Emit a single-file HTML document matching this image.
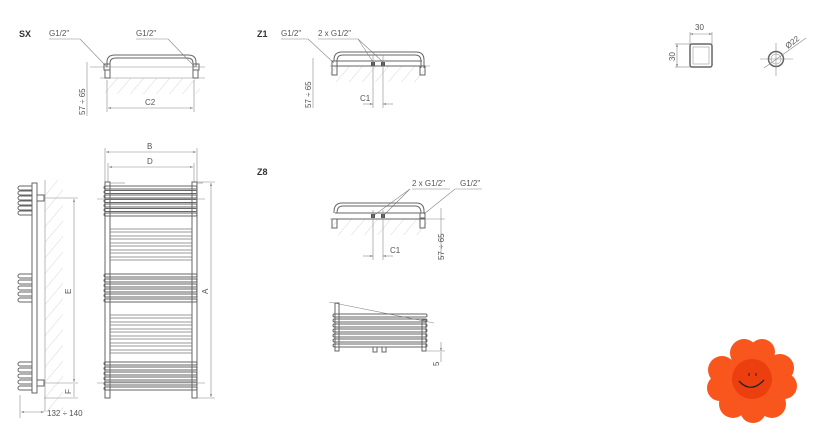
<!DOCTYPE html>
<html><head><meta charset="utf-8"><style>
html,body{margin:0;padding:0;background:#fff;}
svg{display:block;font-family:"Liberation Sans",sans-serif;}
.t{font-size:8px;fill:#555;}
.b{font-size:9px;font-weight:bold;fill:#333;}
.o{fill:none;stroke:#666;stroke-width:1;}
.d{fill:none;stroke:#888;stroke-width:0.6;}
.h{stroke:#bbb;stroke-width:0.6;}
</style></head><body>
<svg width="820" height="448" viewBox="0 0 820 448" xmlns="http://www.w3.org/2000/svg">
<defs>
<pattern id="hat" width="10" height="10" patternUnits="userSpaceOnUse" patternTransform="rotate(40)">
<line x1="0" y1="0" x2="0" y2="10" class="h"/></pattern>
<marker id="ar" markerWidth="6" markerHeight="6" refX="5" refY="3" orient="auto-start-reverse"><path d="M0,1.5 L5,3 L0,4.5z" fill="#777"/></marker>
</defs>

<!-- SX -->
<text x="19" y="37" class="b">SX</text>
<text x="49" y="36" class="t">G1/2"</text>
<text x="136" y="36" class="t">G1/2"</text>
<line x1="49" y1="39" x2="80" y2="39" class="d"/><line x1="80" y1="39" x2="107" y2="67" class="d"/>
<line x1="136" y1="39" x2="168" y2="39" class="d"/><line x1="168" y1="39" x2="195" y2="67" class="d"/>
<rect x="105" y="78" width="95" height="16" fill="url(#hat)"/>
<line x1="100" y1="78" x2="205" y2="78" class="d"/>
<path d="M107,67 V62 Q107,55 115,55 H188 Q196,55 196,62 V67" class="o"/>
<path d="M110,67 V63 Q110,58 116,58 H187 Q193,58 193,63 V67" class="o"/>
<line x1="90" y1="67" x2="205" y2="67" class="d"/>
<rect x="104" y="64" width="6" height="6" class="o"/><rect x="193" y="64" width="6" height="6" class="o"/>
<rect x="105" y="70" width="5" height="8" class="o"/><rect x="193" y="70" width="5" height="8" class="o"/>
<line x1="87" y1="62" x2="87" y2="116" class="d"/>
<text transform="translate(85,115) rotate(-90)" class="t">57 ÷ 65</text>
<line x1="107" y1="80" x2="107" y2="112" class="d"/><line x1="194" y1="80" x2="194" y2="112" class="d"/>
<line x1="108" y1="108" x2="193" y2="108" class="d" marker-start="url(#ar)" marker-end="url(#ar)"/>
<text x="145" y="105" class="t">C2</text>

<!-- Z1 -->
<text x="257" y="37" class="b">Z1</text>
<text x="281" y="36" class="t">G1/2"</text>
<text x="318" y="36" class="t">2 x G1/2"</text>
<line x1="281" y1="39" x2="308" y2="39" class="d"/><line x1="308" y1="39" x2="334" y2="63" class="d"/>
<line x1="318" y1="39" x2="358" y2="39" class="d"/><line x1="358" y1="39" x2="373" y2="62" class="d"/><line x1="358" y1="39" x2="383" y2="62" class="d"/>
<rect x="330" y="66" width="95" height="16" fill="url(#hat)"/>
<line x1="330" y1="66" x2="430" y2="66" class="d"/>
<path d="M334,61 V60 Q334,52 342,52 H416 Q424,52 424,60 V68" class="o"/>
<path d="M337,61 V61 Q337,55 343,55 H415 Q421,55 421,61 V68" class="o"/>
<line x1="335" y1="61" x2="422" y2="61" class="o"/><line x1="335" y1="66" x2="422" y2="66" class="o"/>
<rect x="332" y="61" width="5" height="5" class="o"/>
<rect x="371" y="62" width="4" height="4" fill="#555"/><rect x="381" y="62" width="4" height="4" fill="#555"/>
<rect x="332" y="66" width="5" height="9" class="o"/><rect x="420" y="66" width="5" height="9" class="o"/>
<line x1="313" y1="58" x2="313" y2="108" class="d"/>
<text transform="translate(311,108) rotate(-90)" class="t">57 ÷ 65</text>
<line x1="373" y1="55" x2="373" y2="108" class="d"/><line x1="383" y1="55" x2="383" y2="108" class="d"/>
<line x1="363" y1="104" x2="373" y2="104" class="d" marker-end="url(#ar)"/><line x1="393" y1="104" x2="383" y2="104" class="d" marker-end="url(#ar)"/>
<text x="360" y="101" class="t">C1</text>

<!-- profiles -->
<text x="695" y="30" class="t">30</text>
<line x1="690" y1="34" x2="712" y2="34" class="d" marker-start="url(#ar)" marker-end="url(#ar)"/>
<line x1="690" y1="32" x2="690" y2="44" class="d"/><line x1="712" y1="32" x2="712" y2="44" class="d"/>
<rect x="690" y="44" width="22" height="23" rx="2" fill="none" stroke="#666" stroke-width="1.5"/>
<rect x="693" y="47" width="16" height="17" fill="none" stroke="#999" stroke-width="0.6"/>
<line x1="677" y1="44" x2="677" y2="67" class="d" marker-start="url(#ar)" marker-end="url(#ar)"/>
<line x1="675" y1="44" x2="690" y2="44" class="d"/><line x1="675" y1="67" x2="690" y2="67" class="d"/>
<text transform="translate(675,61) rotate(-90)" class="t">30</text>
<line x1="776" y1="43" x2="776" y2="76" class="d"/><line x1="760" y1="59" x2="793" y2="59" class="d"/>
<circle cx="776" cy="59" r="7.5" fill="none" stroke="#666" stroke-width="1.5"/>
<circle cx="776" cy="59" r="5" fill="none" stroke="#999" stroke-width="0.6"/>
<line x1="764" y1="68" x2="806" y2="38" class="d"/>
<text transform="translate(788,49) rotate(-38)" class="t">Ø22</text>

<!-- side view -->
<rect x="45" y="180" width="18" height="232" fill="url(#hat)"/>
<line x1="45" y1="180" x2="45" y2="412" class="d"/>
<rect x="32" y="183" width="5" height="210" class="o"/>
<g class="o">
<path d="M32,186 H20 a2,2 0 0 0 0,4 H32 M32,191 H20 a2,2 0 0 0 0,4 H32 M32,196 H20 a2,2 0 0 0 0,4 H32 M32,201 H20 a2,2 0 0 0 0,4 H32 M32,206 H20 a2,2 0 0 0 0,4 H32 M32,211 H20 a2,2 0 0 0 0,4 H32"/>
<path d="M32,274 H20 a2,2 0 0 0 0,4 H32 M32,280 H20 a2,2 0 0 0 0,4 H32 M32,286 H20 a2,2 0 0 0 0,4 H32 M32,292 H20 a2,2 0 0 0 0,4 H32 M32,298 H20 a2,2 0 0 0 0,4 H32"/>
<path d="M32,362 H20 a2,2 0 0 0 0,4 H32 M32,368 H20 a2,2 0 0 0 0,4 H32 M32,374 H20 a2,2 0 0 0 0,4 H32 M32,380 H20 a2,2 0 0 0 0,4 H32 M32,386 H20 a2,2 0 0 0 0,4 H32"/>
</g>
<rect x="37" y="195" width="7" height="6" class="o"/><rect x="37" y="380" width="7" height="6" class="o"/>
<line x1="44" y1="198" x2="78" y2="198" class="d"/><line x1="44" y1="383" x2="78" y2="383" class="d"/><line x1="44" y1="398" x2="78" y2="398" class="d"/>
<line x1="74" y1="199" x2="74" y2="382" class="d" marker-start="url(#ar)" marker-end="url(#ar)"/>
<line x1="74" y1="384" x2="74" y2="397" class="d"/>
<text transform="translate(71,294) rotate(-90)" class="t">E</text>
<text transform="translate(71,394) rotate(-90)" class="t">F</text>
<line x1="20" y1="395" x2="20" y2="418" class="d"/>
<line x1="21" y1="412" x2="44" y2="412" class="d" marker-start="url(#ar)" marker-end="url(#ar)"/>
<text x="47" y="416" class="t">132 ÷ 140</text>

<!-- front view -->
<text x="147" y="149" class="t">B</text>
<line x1="106" y1="152" x2="196" y2="152" class="d" marker-start="url(#ar)" marker-end="url(#ar)"/>
<text x="147" y="164" class="t">D</text>
<line x1="109" y1="167" x2="193" y2="167" class="d" marker-start="url(#ar)" marker-end="url(#ar)"/>
<line x1="105" y1="148" x2="105" y2="182" class="d"/><line x1="197" y1="148" x2="197" y2="182" class="d"/>
<line x1="108" y1="163" x2="108" y2="182" class="d"/><line x1="194" y1="163" x2="194" y2="182" class="d"/>
<rect x="105" y="182" width="5" height="216" class="o"/><rect x="192" y="182" width="5" height="216" class="o"/>
<line x1="110" y1="183" x2="125" y2="183" class="d"/><line x1="197" y1="183" x2="203" y2="183" class="d"/>
<g class="o">
<rect x="104" y="186" width="93" height="3" rx="1.5"/><rect x="104" y="190.5" width="93" height="3" rx="1.5"/><rect x="104" y="195" width="93" height="3" rx="1.5"/><rect x="104" y="199.5" width="93" height="3" rx="1.5"/><rect x="104" y="204" width="93" height="3" rx="1.5"/><rect x="104" y="208.5" width="93" height="3" rx="1.5"/><rect x="104" y="213" width="93" height="3" rx="1.5"/>
<rect x="104" y="274" width="93" height="3" rx="1.5"/><rect x="104" y="279" width="93" height="3" rx="1.5"/><rect x="104" y="284" width="93" height="3" rx="1.5"/><rect x="104" y="289" width="93" height="3" rx="1.5"/><rect x="104" y="294" width="93" height="3" rx="1.5"/><rect x="104" y="299" width="93" height="3" rx="1.5"/>
<rect x="104" y="362" width="93" height="3" rx="1.5"/><rect x="104" y="367" width="93" height="3" rx="1.5"/><rect x="104" y="372" width="93" height="3" rx="1.5"/><rect x="104" y="377" width="93" height="3" rx="1.5"/><rect x="104" y="382" width="93" height="3" rx="1.5"/><rect x="104" y="387" width="93" height="3" rx="1.5"/>
</g>
<g stroke="#777" stroke-width="0.8">
<line x1="110" y1="229" x2="192" y2="229"/><line x1="110" y1="232" x2="192" y2="232"/><line x1="110" y1="236" x2="192" y2="236"/><line x1="110" y1="239" x2="192" y2="239"/><line x1="110" y1="243" x2="192" y2="243"/><line x1="110" y1="246" x2="192" y2="246"/><line x1="110" y1="250" x2="192" y2="250"/><line x1="110" y1="253" x2="192" y2="253"/><line x1="110" y1="257" x2="192" y2="257"/><line x1="110" y1="260" x2="192" y2="260"/>
<line x1="110" y1="315" x2="192" y2="315"/><line x1="110" y1="318" x2="192" y2="318"/><line x1="110" y1="322" x2="192" y2="322"/><line x1="110" y1="325" x2="192" y2="325"/><line x1="110" y1="329" x2="192" y2="329"/><line x1="110" y1="332" x2="192" y2="332"/><line x1="110" y1="336" x2="192" y2="336"/><line x1="110" y1="339" x2="192" y2="339"/><line x1="110" y1="343" x2="192" y2="343"/><line x1="110" y1="346" x2="192" y2="346"/><line x1="110" y1="350" x2="192" y2="350"/><line x1="110" y1="353" x2="192" y2="353"/>
</g>
<line x1="97" y1="199" x2="205" y2="199" class="d"/><line x1="97" y1="383" x2="205" y2="383" class="d"/>
<line x1="197" y1="182" x2="215" y2="182" class="d"/><line x1="197" y1="398" x2="215" y2="398" class="d"/>
<line x1="211" y1="183" x2="211" y2="397" class="d" marker-start="url(#ar)" marker-end="url(#ar)"/>
<text transform="translate(208,294) rotate(-90)" class="t">A</text>

<!-- Z8 -->
<text x="257" y="175" class="b">Z8</text>
<text x="412" y="186" class="t">2 x G1/2"</text>
<text x="460" y="186" class="t">G1/2"</text>
<line x1="412" y1="189" x2="450" y2="189" class="d"/><line x1="410" y1="189" x2="373" y2="216" class="d"/><line x1="410" y1="189" x2="383" y2="216" class="d"/>
<line x1="455" y1="189" x2="482" y2="189" class="d"/><line x1="455" y1="189" x2="424" y2="214" class="d"/>
<rect x="330" y="219" width="97" height="16" fill="url(#hat)"/>
<line x1="330" y1="219" x2="445" y2="219" class="d"/>
<path d="M334,213 V212 Q334,203 342,203 H416 Q424,203 424,211 V213" class="o"/>
<path d="M337,213 Q337,206 343,206 H415 Q421,206 421,213" class="o"/>
<line x1="335" y1="213" x2="422" y2="213" class="o"/><line x1="335" y1="219" x2="422" y2="219" class="o"/>
<rect x="420" y="213" width="5" height="5" class="o"/>
<rect x="371" y="214" width="4" height="4" fill="#555"/><rect x="381" y="214" width="4" height="4" fill="#555"/>
<rect x="332" y="219" width="5" height="9" class="o"/><rect x="420" y="219" width="5" height="9" class="o"/>
<line x1="441" y1="208" x2="441" y2="260" class="d"/>
<text transform="translate(444,260) rotate(-90)" class="t">57 ÷ 65</text>
<line x1="373" y1="210" x2="373" y2="260" class="d"/><line x1="383" y1="210" x2="383" y2="260" class="d"/>
<line x1="363" y1="256" x2="373" y2="256" class="d" marker-end="url(#ar)"/><line x1="393" y1="256" x2="383" y2="256" class="d" marker-end="url(#ar)"/>
<text x="390" y="253" class="t">C1</text>

<!-- section -->
<line x1="329" y1="302" x2="434" y2="323" class="d"/>
<rect x="335" y="303" width="4" height="48" class="o"/><rect x="422" y="320" width="4" height="31" class="o"/>
<g class="o">
<rect x="333" y="314" width="94" height="3" rx="1.5"/><rect x="333" y="319" width="94" height="3" rx="1.5"/><rect x="333" y="324" width="94" height="3" rx="1.5"/><rect x="333" y="329" width="94" height="3" rx="1.5"/><rect x="333" y="334" width="94" height="3" rx="1.5"/><rect x="333" y="339" width="94" height="3" rx="1.5"/><rect x="333" y="344" width="94" height="3" rx="1.5"/>
<rect x="373" y="347" width="4" height="5" /><rect x="382" y="347" width="4" height="5"/>
</g>
<line x1="426" y1="351" x2="445" y2="351" class="d"/>
<line x1="441" y1="342" x2="441" y2="351" class="d" marker-end="url(#ar)"/><line x1="441" y1="362" x2="441" y2="352" class="d"/>
<text transform="translate(439,366) rotate(-90)" class="t">5</text>

<!-- flower -->
<g fill="#f8561c">
<circle cx="744" cy="353" r="14"/><circle cx="762" cy="352" r="13"/>
<circle cx="780" cy="368" r="14"/><circle cx="784" cy="386" r="13"/>
<circle cx="772" cy="404" r="14"/><circle cx="753" cy="410" r="13"/>
<circle cx="733" cy="404" r="14"/><circle cx="720" cy="388" r="13"/>
<circle cx="722" cy="370" r="14"/>
<circle cx="752" cy="380" r="28"/>
</g>
<circle cx="752" cy="379" r="20" fill="#ec3f10"/>
<path d="M739,381 Q751,394 764,380" fill="none" stroke="#222" stroke-width="1.3"/>
<line x1="749" y1="373" x2="749" y2="376" stroke="#222" stroke-width="1"/><line x1="756" y1="373" x2="756" y2="376" stroke="#222" stroke-width="1"/>
</svg>
</body></html>
